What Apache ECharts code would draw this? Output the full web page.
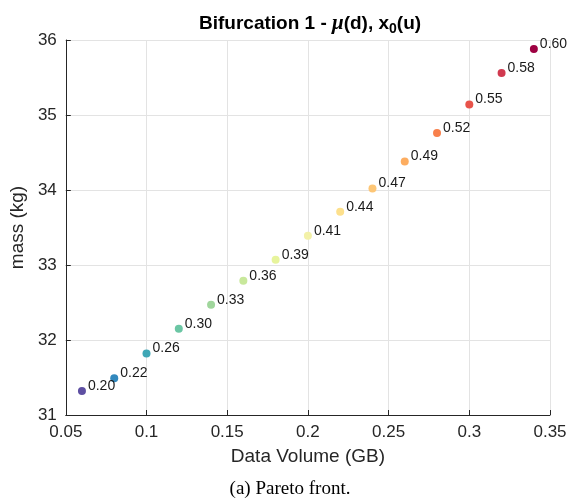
<!DOCTYPE html>
<html>
<head>
<meta charset="utf-8">
<script src="https://cdn.jsdelivr.net/npm/echarts@6/dist/echarts.min.js"></script>
<style>html,body{margin:0;padding:0;background:#fff;}#c{width:580px;height:504px;}</style>
</head>
<body>
<div id="c"></div>
<script>
const dataVolume = [0.06, 0.08, 0.10, 0.12, 0.14, 0.16, 0.18, 0.20, 0.22, 0.24, 0.26, 0.28, 0.30, 0.32, 0.34];
const mass = [31.32, 31.49, 31.82, 32.15, 32.47, 32.79, 33.07, 33.39, 33.71, 34.02, 34.38, 34.76, 35.14, 35.56, 35.88];
const uLabels = [0.20, 0.22, 0.26, 0.30, 0.33, 0.36, 0.39, 0.41, 0.44, 0.47, 0.49, 0.52, 0.55, 0.58, 0.60];
const xTicks = [0.05, 0.1, 0.15, 0.2, 0.25, 0.3, 0.35];
const yTicks = [31, 32, 33, 34, 35, 36];
const palette = ['#5e4fa2', '#3288bd', '#3fa7b6', '#6bc6a4', '#a0d69c', '#c8e89b', '#e7f49c', '#f3f1a8', '#fde08c', '#fdc676', '#fdad60', '#f8804c', '#e8534a', '#d1394f', '#9e0142'];

const points = dataVolume.map((x, i) => ({
  value: [x, mass[i], uLabels[i]],
  itemStyle: { color: palette[i], opacity: 1 }
}));

const chart = echarts.init(document.getElementById('c'));
chart.setOption({
  animation: false,
  backgroundColor: '#fff',
  title: {
    text: '{b|Bifurcation 1 - }{i|μ}{b|(d), x}{s|0}{b|(u)}',
    left: 194,
    top: 7,
    textStyle: {
      rich: {
        b: { fontFamily: 'Liberation Sans, Arial', fontWeight: 'bold', fontSize: 19, color: '#000' },
        i: { fontFamily: 'Liberation Serif, Times New Roman', fontStyle: 'italic', fontSize: 21, color: '#000' },
        s: { fontFamily: 'Liberation Sans, Arial', fontWeight: 'bold', fontSize: 14, color: '#000', verticalAlign: 'bottom', padding: [10, 0, 0, 0] }
      }
    }
  },
  grid: { left: 62, right: 30, top: 40, bottom: 89, containLabel: false },
  xAxis: {
    type: 'value',
    min: 0.05, max: 0.35, interval: 0.05,
    name: 'Data Volume (GB)',
    nameLocation: 'middle',
    nameGap: 32,
    nameTextStyle: { fontFamily: 'Liberation Sans, Arial', fontSize: 19, color: '#262626' },
    axisLine: { show: true, lineStyle: { color: '#262626', width: 1 } },
    axisTick: { show: true, inside: true, length: 5, lineStyle: { color: '#262626' } },
    axisLabel: {
      fontFamily: 'Liberation Sans, Arial', fontSize: 17, color: '#262626', margin: 9,
      formatter: v => { const t = xTicks.find(k => Math.abs(k - v) < 1e-9); return t === undefined ? '' : String(t); }
    },
    splitLine: { show: true, lineStyle: { color: '#e3e3e3', width: 1 } }
  },
  yAxis: {
    type: 'value',
    min: 31, max: 36, interval: 1,
    name: 'mass (kg)',
    nameLocation: 'middle',
    nameGap: 30,
    nameTextStyle: { fontFamily: 'Liberation Sans, Arial', fontSize: 19, color: '#262626' },
    axisLine: { show: true, lineStyle: { color: '#262626', width: 1 } },
    axisTick: { show: true, inside: true, length: 5, lineStyle: { color: '#262626' } },
    axisLabel: {
      fontFamily: 'Liberation Sans, Arial', fontSize: 17, color: '#262626', margin: 9,
      formatter: v => yTicks.includes(v) ? String(v) : ''
    },
    splitLine: { show: true, lineStyle: { color: '#e3e3e3', width: 1 } }
  },
  series: [{
    type: 'scatter',
    data: points,
    symbolSize: 8,
    label: {
      show: true,
      position: 'right',
      distance: 2,
      offset: [0, -5],
      fontFamily: 'Liberation Sans, Arial',
      fontSize: 14,
      color: '#1a1a1a',
      formatter: p => p.value[2].toFixed(2)
    }
  }],
  graphic: [{
    type: 'text',
    left: 'center',
    top: 480,
    style: {
      text: '(a) Pareto front.',
      font: '19px "Liberation Serif", "Times New Roman", serif',
      fill: '#000'
    }
  }]
});
</script>
</body>
</html>
